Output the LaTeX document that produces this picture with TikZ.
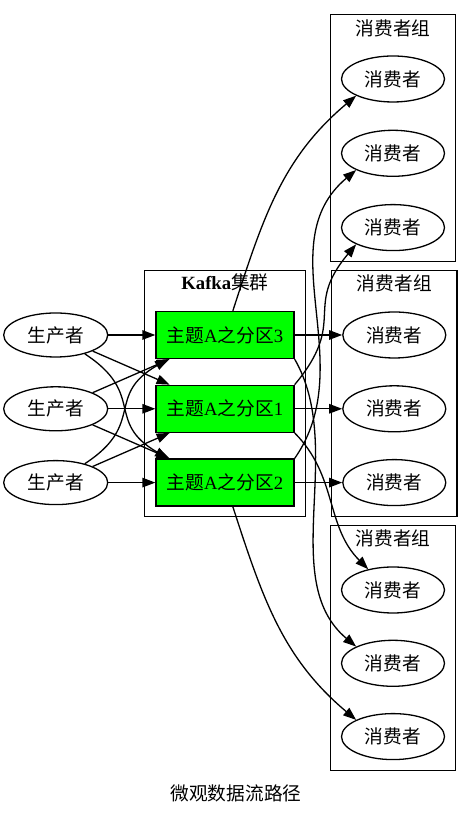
\documentclass[tikz,border=0pt]{standalone}
\usepackage{fontspec}
\setmainfont{Liberation Serif}
\newfontfamily\cjk{Noto Sans CJK SC}
\usepackage{tikz}
\usetikzlibrary{
    shapes.geometric,
    arrows.meta,
    positioning,
    fit,
    backgrounds
}
\definecolor{Kgreen}{RGB}{0, 255, 0}
\newcommand{\kfont}{\fontsize{18.7}{22}\selectfont}
\newcommand{\fenqu}[1]{{\cjk 主题}A{\cjk 之分区}#1}
\tikzset{
    kprod/.style={
        ellipse, draw=black, line width=1.3pt,
        minimum width=104pt, minimum height=44pt, inner sep=2pt, font=\kfont\cjk
    },
    kcons/.style={
        ellipse, draw=black, line width=1.3pt,
        minimum width=103pt, minimum height=46pt, inner sep=2pt, font=\kfont\cjk
    },
    kpart/.style={
        rectangle, draw=black, line width=1.3pt, fill=Kgreen,
        minimum width=138pt, minimum height=47pt, inner sep=2pt
    },
    kgrp/.style={
        rectangle, draw=black, line width=1.2pt,
        inner xsep=10.5pt, inner ysep=10pt
    },
    ktitle/.style={font=\kfont\cjk},
    karr/.style={-{Triangle[length=13pt, width=9.5pt]}, line width=1.3pt, black},
}

\begin{document}
\begin{tikzpicture}[x=1pt, y=1pt, font=\kfont]
    \useasboundingbox (0,0) rectangle (471,816);

    % ── 中间：Kafka 集群的三个分区 ─────────────────────────
    \node [kpart] (part3) at (225,481) {\fenqu{3}};
    \node [kpart, below=25.5pt of part3] (part1) {\fenqu{1}};
    \node [kpart, below=25.5pt of part1] (part2) {\fenqu{2}};

    % ── 左列：生产者 ─────────────────────────────────────
    \node [kprod, left=47pt of part3] (p1) {生产者};
    \node [kprod, left=47pt of part1] (p2) {生产者};
    \node [kprod, left=47pt of part2] (p3) {生产者};

    % ── 右列：三个消费者组 ────────────────────────────────
    \node [kcons] (c1a) at (393,737) {消费者};
    \node [kcons, below=27pt of c1a] (c1b) {消费者};
    \node [kcons, below=27pt of c1b] (c1c) {消费者};

    \node [kcons, right=47.5pt of part3] (c2a) {消费者};
    \node [kcons, right=47.5pt of part1] (c2b) {消费者};
    \node [kcons, right=47.5pt of part2] (c2c) {消费者};

    \node [kcons] (c3a) at (393,226) {消费者};
    \node [kcons, below=26pt of c3a] (c3b) {消费者};
    \node [kcons, below=26pt of c3b] (c3c) {消费者};

    % ── 分组框（顶部留出标题位置）────────────────────────
    \coordinate (ktop) at ([yshift=30.5pt]part3.north);
    \coordinate (g1top) at ([yshift=31pt]c1a.north);
    \coordinate (g2top) at ([yshift=31pt]c2a.north);
    \coordinate (g3top) at ([yshift=31pt]c3a.north);
    \begin{scope}[on background layer]
        \node [kgrp, fit=(part3)(part2)(ktop)] (kafka) {};
        \node [kgrp, fit=(c1a)(c1c)(g1top)] (g1) {};
        \node [kgrp, fit=(c2a)(c2c)(g2top)] (g2) {};
        \node [kgrp, fit=(c3a)(c3c)(g3top)] (g3) {};
    \end{scope}
    \node (tk) at ([yshift=-13pt]kafka.north) {\textbf{Kafka}{\cjk 集群}};
    \node [ktitle] (t1) at ([yshift=-15pt]g1.north) {消费者组};
    \node [ktitle] (t2) at ([yshift=-14pt]g2.north) {消费者组};
    \node [ktitle] (t3) at ([yshift=-14pt]g3.north) {消费者组};

    % ── 生产者 → 分区 ────────────────────────────────────
    \draw [karr] (p1) -- (part3);
    \draw [karr] (p1) -- (part1);
    \draw [karr] (p1) to[out=-33, in=150, looseness=1.4] (part2.157);
    \draw [karr] (p2) -- (part3);
    \draw [karr] (p2) -- (part1);
    \draw [karr] (p2) -- (part2);
    \draw [karr] (p3) to[out=33, in=-150, looseness=1.4] (part3.-157);
    \draw [karr] (p3) -- (part1);
    \draw [karr] (p3) -- (part2);

    % ── 分区 → 消费者 ────────────────────────────────────
    \draw [karr] (part3) to[out=72, in=-140] (c1a.south west);
    \draw [karr] (part3) -- (c2a);
    \draw [karr] (part3.south east) to[out=-60, in=140, looseness=0.9] (c3b.north west);
    \draw [karr] (part1.north east) to[out=50, in=-130, looseness=1.4] (c1c.south west);
    \draw [karr] (part1) -- (c2b);
    \draw [karr] (part1.south east) to[out=-45, in=135] (c3a.140);
    \draw [karr] (part2.north east) to[out=55, in=-140] (c1b.south west);
    \draw [karr] (part2) -- (c2c);
    \draw [karr] (part2) to[out=-72, in=140] (c3c.north west);

    % ── 图题 ─────────────────────────────────────────────
    \node [ktitle] (cap) at (236,23) {微观数据流路径};

\end{tikzpicture}
\end{document}
